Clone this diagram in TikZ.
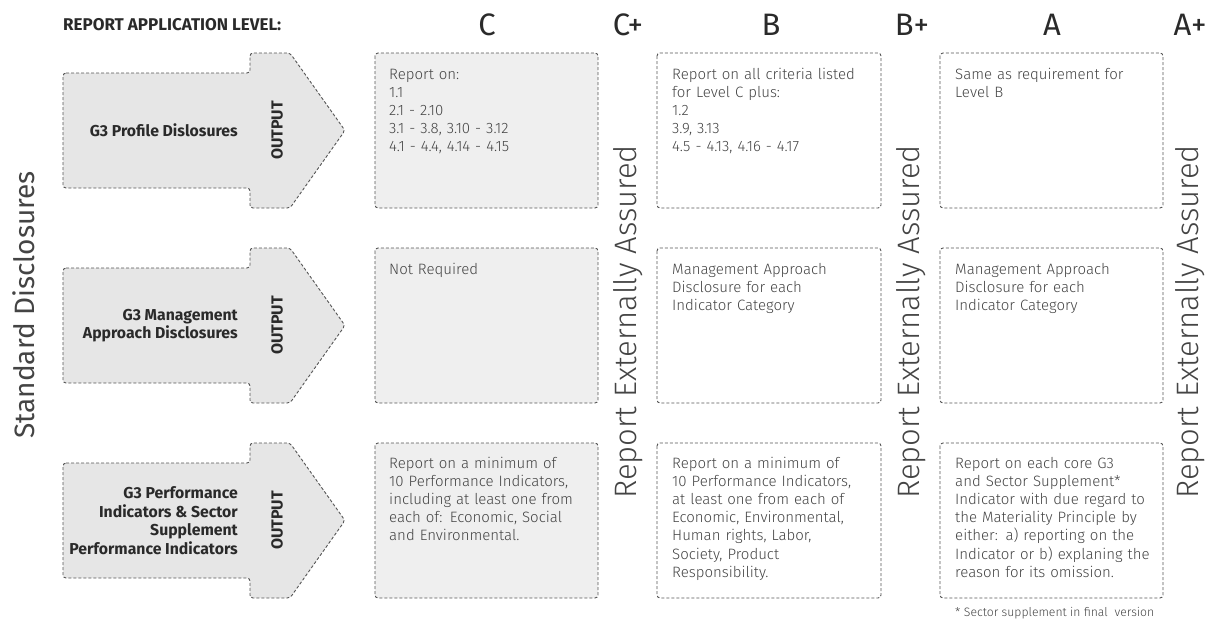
\documentclass[tikz,border=0pt]{standalone}
\usepackage{fontspec}
\setmainfont{Fira Sans}
\newfontfamily\lightfont{Fira Sans Light}
\definecolor{dashcol}{HTML}{555555}
\definecolor{arrowfill}{HTML}{E6E6E6}
\definecolor{cfill}{HTML}{EFEFEF}
\definecolor{txt}{HTML}{444444}
\definecolor{dark}{HTML}{2A2A2A}
\tikzset{
  dline/.style={draw=dashcol, line width=0.9pt, dash pattern=on 3pt off 2pt, rounded corners=3pt},
  arrowshape/.style={dline, fill=arrowfill},
  lvlbox/.style={dline},
  cbox/.style={dline, fill=cfill},
  boxtext/.style={anchor=base west, inner sep=0pt, text width=210pt, align=left, text=txt, font=\lightfont\fontsize{15}{18.2}\selectfont},
  arrowtext/.style={anchor=east, inner sep=0pt, align=right, text=dark, font=\bfseries\fontsize{15.8}{18.5}\selectfont},
  outtext/.style={rotate=90, inner sep=0pt, text=dark, font=\bfseries\fontsize{16}{16}\selectfont},
  header/.style={inner sep=0pt, text=dark, font=\fontsize{31}{31}\selectfont},
  assured/.style={rotate=90, inner sep=0pt, text=txt, font=\lightfont\fontsize{31}{31}\selectfont},
}
\begin{document}
\begin{tikzpicture}[x=1pt, y=-1pt]
\useasboundingbox (0,0) rectangle (1213,621);
% title
\node[anchor=west, inner sep=0pt, text=dark, font=\bfseries\fontsize{17}{17}\selectfont] (title) at (63,25) {REPORT APPLICATION LEVEL:};
% headers
\node[header] (hC) at (487,25) {C};
\node[header] (hCp) at (628,25) {C+};
\node[header] (hB) at (771,25) {B};
\node[header] (hBp) at (912,25) {B+};
\node[header] (hA) at (1052,25) {A};
\node[header] (hAp) at (1190,25) {A+};
% side label
\node[rotate=90, inner sep=0pt, text=txt, font=\fontsize{28}{28}\selectfont] (std) at (24,305) {Standard Disclosures};
% arrows
\foreach \c/\nm in {130.5/a1, 325.5/a2, 520.5/a3}{
  \draw[arrowshape] (63,\c-57.5) -- (250,\c-57.5) -- (250,\c-77.5) -- (290,\c-77.5) -- (345,\c) -- (290,\c+77.5) -- (250,\c+77.5) -- (250,\c+57.5) -- (63,\c+57.5) -- cycle;
  \node[outtext] (out\nm) at (277,\c) {OUTPUT};
}
\node[arrowtext] (l1) at (238,130.5) {G3 Profile Dislosures};
\node[arrowtext] (l2) at (238,325.5) {G3 Management\\Approach Disclosures};
\node[arrowtext] (l3) at (238,520.5) {G3 Performance\\Indicators \& Sector\\Supplement\\Performance Indicators};
% boxes
\foreach \t/\b in {53/208, 248/403, 443/598}{
  \draw[cbox] (375,\t) rectangle (598,\b);
  \draw[lvlbox] (657,\t) rectangle (881,\b);
  \draw[lvlbox] (940,\t) rectangle (1163,\b);
}
% row 1
\node[boxtext] (c1) at (389,79) {Report on:\\1.1\\2.1 - 2.10\\3.1 - 3.8, 3.10 - 3.12\\4.1 - 4.4, 4.14 - 4.15};
\node[boxtext] (b1) at (672,79) {Report on all criteria listed\\for Level C plus:\\1.2\\3.9, 3.13\\4.5 - 4.13, 4.16 - 4.17};
\node[boxtext] (ab1) at (955,79) {Same as requirement for\\Level B};
% row 2
\node[boxtext] (c2) at (389,274) {Not Required};
\node[boxtext] (b2) at (672,274) {Management Approach\\Disclosure for each\\Indicator Category};
\node[boxtext] (ab2) at (955,274) {Management Approach\\Disclosure for each\\Indicator Category};
% row 3
\node[boxtext] (c3) at (389,468) {Report on a minimum of\\10 Performance Indicators,\\including at least one from\\each of: Economic, Social\\and Environmental.};
\node[boxtext] (b3) at (672,468) {Report on a minimum of\\10 Performance Indicators,\\at least one from each of\\Economic, Environmental,\\Human rights, Labor,\\Society, Product\\Responsibility.};
\node[boxtext] (ab3) at (955,468) {Report on each core G3\\and Sector Supplement*\\Indicator with due regard to\\the Materiality Principle by\\either: a) reporting on the\\Indicator or b) explaning the\\reason for its omission.};
% assured
\node[assured] (rc) at (628,322) {Report Externally Assured};
\node[assured] (rb) at (911,322) {Report Externally Assured};
\node[assured] (ra) at (1190,322) {Report Externally Assured};
% footnote
\node[anchor=west, inner sep=0pt, text=txt, font=\lightfont\fontsize{12.2}{12.2}\selectfont] (fn) at (955,613) {* Sector supplement in final\ \ version};
\end{tikzpicture}
\end{document}
